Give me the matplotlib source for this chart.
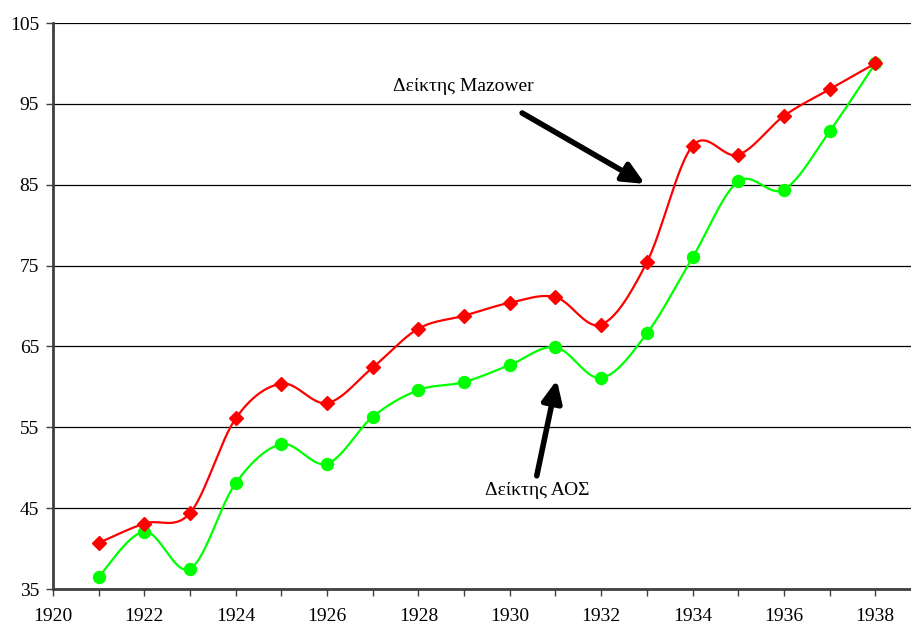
import numpy as np
import matplotlib
matplotlib.use("Agg")
import matplotlib.pyplot as plt

years = list(range(1921, 1939))
mazower = [40.7, 43.1, 44.4, 56.1, 60.4, 58.0, 62.4, 67.2, 68.8, 70.4, 71.1,
           67.7, 75.4, 89.8, 88.7, 93.5, 96.8, 100.0]
aos = [36.5, 42.1, 37.5, 48.1, 52.9, 50.5, 56.3, 59.6, 60.6, 62.7, 64.9,
       61.1, 66.6, 76.0, 85.4, 84.4, 91.6, 100.0]
yticks = [35, 45, 55, 65, 75, 85, 95, 105]
xticks = list(range(1920, 1940, 2))


def smooth(x, y, n=30):
    # Catmull-Rom spline (Excel-like smoothed line)
    x = np.asarray(x, float)
    y = np.asarray(y, float)
    px = np.concatenate([[x[0]], x, [x[-1]]])
    py = np.concatenate([[y[0]], y, [y[-1]]])
    xs, ys = [], []
    t = np.linspace(0, 1, n)
    for i in range(1, len(px) - 2):
        p0, p1, p2, p3 = [np.array([px[j], py[j]]) for j in range(i - 1, i + 3)]
        c1 = p1 + (p2 - p0) / 6
        c2 = p2 - (p3 - p1) / 6
        b = ((1 - t) ** 3)[:, None] * p1 + (3 * (1 - t) ** 2 * t)[:, None] * c1 \
            + (3 * (1 - t) * t ** 2)[:, None] * c2 + (t ** 3)[:, None] * p2
        xs.extend(b[:, 0])
        ys.extend(b[:, 1])
    return np.array(xs), np.array(ys)


plt.rcParams['font.family'] = ['Liberation Serif', 'DejaVu Serif']

fig = plt.figure(figsize=(9.12, 6.26), dpi=100)
ax = fig.add_axes([53 / 912, 37 / 626, 1 - 53 / 912, (589 - 23) / 626])

ax.set_xlim(1920, 1920 + (912 - 53) / 45.68)
ax.set_ylim(35, 105)

for v in yticks:
    ax.axhline(v, color='black', lw=0.9, zorder=1)

gx, gy = smooth(years, aos)
rx, ry = smooth(years, mazower)
ax.plot(gx, gy, color='#00FF00', lw=1.6, zorder=3)
ax.plot(years, aos, 'o', color='#00FF00', ms=8.6, zorder=4)
ax.plot(rx, ry, color='#FF0000', lw=1.6, zorder=5)
ax.plot(years, mazower, 'D', color='#FF0000', ms=6.8, zorder=6)

ax.set_yticks(yticks)
ax.set_xticks(xticks)
ax.set_xticks(range(1920, 1939), minor=True)
ax.tick_params(axis='both', labelsize=14, direction='out', length=5, width=1,
               colors='#404040', labelcolor='black')
ax.tick_params(axis='x', which='minor', length=5, width=1, color='#404040')
ax.tick_params(axis='x', pad=8.5)
ax.tick_params(axis='y', pad=5)

for s in ['top', 'right']:
    ax.spines[s].set_visible(False)
for s in ['left', 'bottom']:
    ax.spines[s].set_color('#404040')
    ax.spines[s].set_linewidth(2)

arrow = dict(arrowstyle='-|>,head_length=1.3,head_width=0.6',
             color='black', lw=4, shrinkA=0, shrinkB=0, capstyle='round')
ax.text(1928.98, 97.1, 'Δείκτης Mazower', fontsize=14, ha='center', va='center')
ax.annotate('', xy=(1932.96, 85.1), xytext=(1930.27, 93.87),
            arrowprops=arrow, zorder=7)
ax.text(1930.6, 47.2, 'Δείκτης ΑΟΣ', fontsize=14, ha='center', va='center')
ax.annotate('', xy=(1931.03, 60.85), xytext=(1930.59, 49.0),
            arrowprops=arrow, zorder=7)

fig.savefig('out.png', dpi=100)
